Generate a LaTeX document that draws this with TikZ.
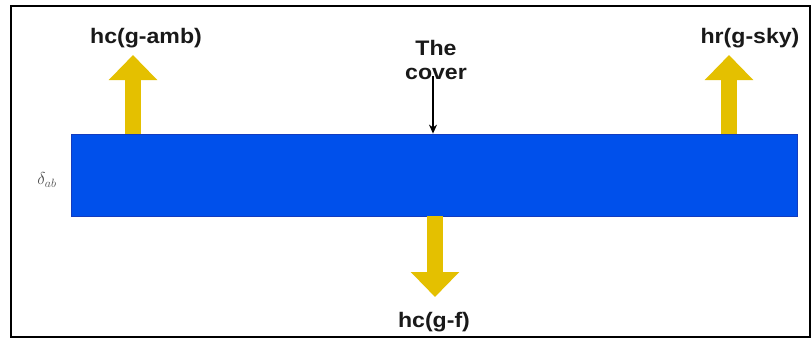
\documentclass[tikz,border=0pt]{standalone}
\usepackage{fontspec}
\setmainfont{Liberation Sans}
\newfontfamily\labelfont[FakeStretch=1.1]{Liberation Sans}
\usetikzlibrary{arrows.meta}

\definecolor{slabblue}{RGB}{0,80,235}
\definecolor{slabedge}{RGB}{20,60,190}
\definecolor{flowgold}{RGB}{228,192,0}
\definecolor{thicktext}{RGB}{25,25,25}

\tikzset{
  frame/.style={draw=black, line width=2.6pt},
  slab/.style={draw=slabedge, fill=slabblue, line width=0.8pt,
    minimum width=726pt, minimum height=82pt, inner sep=0pt},
  flowlabel/.style={font=\labelfont\bfseries\fontsize{21}{24}\selectfont,
    text=thicktext, inner sep=0pt, align=center},
  heatflow/.style={draw=flowgold, line width=16pt,
    -{Triangle[width=47pt,length=25pt]}},
  pointer/.style={draw=black, line width=1.1pt,
    -{Stealth[length=9pt,width=8pt]}},
}

\begin{document}
\begin{tikzpicture}[x=1pt, y=-1pt]
  \useasboundingbox (0,0) rectangle (811,340);
  \fill[white] (0,0) rectangle (811,340);

  % outer frame
  \draw[frame] (11,6) rectangle (810,337);

  % absorber slab
  \node[slab] (cover) at (434,175) {};

  % thickness symbol
  \node[text=black!70, inner sep=0pt] (delta) at (47,180)
    {\fontsize{18}{18}\selectfont$\delta_{ab}$};

  % heat flows
  \coordinate (ambtip) at (133,55);
  \coordinate (skytip) at (729,55);
  \coordinate (fluidtip) at (435,297);
  \draw[heatflow] (cover.north -| ambtip) -- (ambtip);
  \draw[heatflow] (cover.north -| skytip) -- (skytip);
  \draw[heatflow] (cover.south -| fluidtip) -- (fluidtip);

  \node[flowlabel, anchor=base] (amb) at (146,43) {hc(g-amb)};
  \node[flowlabel, anchor=base] (sky) at (750,43) {hr(g-sky)};
  \node[flowlabel, anchor=base] (fluid) at (434,327) {hc(g-f)};

  % cover label and pointer
  \node[flowlabel, anchor=base] (thecover) at (436,79)
    {The\\cover};
  \coordinate (pstart) at (433,76);
  \draw[pointer] (pstart) -- (cover.north -| pstart);
\end{tikzpicture}
\end{document}
